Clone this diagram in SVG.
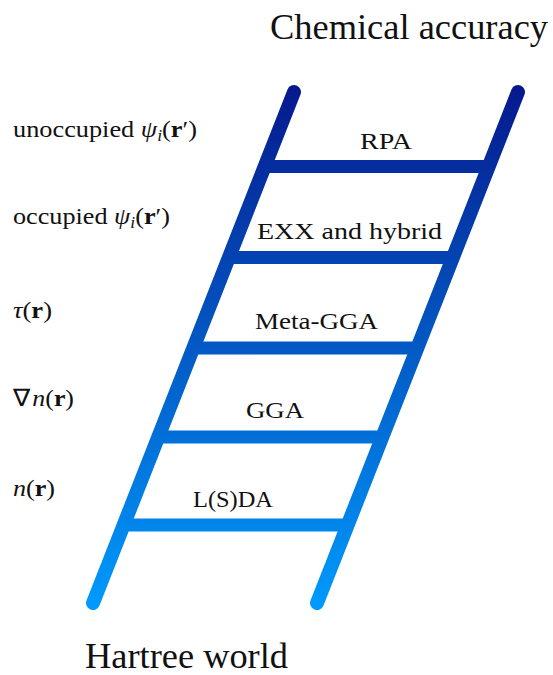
<svg xmlns="http://www.w3.org/2000/svg" width="553" height="675" viewBox="0 0 553 675" font-family="'Liberation Serif', 'Times New Roman', serif">
  <style>
    text { fill: #111; font-family: "Liberation Serif", "Times New Roman", serif; }
    .title { font-size: 35px; }
    .rung-label { font-size: 24px; text-anchor: middle; }
    .level { font-size: 24px; }
    .it { font-style: italic; }
    .bf { font-weight: bold; }
    .rail { stroke: url(#ladderShade); stroke-width: 14; stroke-linecap: round; fill: none; }
    .rung { stroke: url(#ladderShade); stroke-width: 13; stroke-linecap: butt; fill: none; }
  </style>
  <defs>
    <linearGradient id="ladderShade" gradientUnits="userSpaceOnUse" x1="0" y1="92" x2="0" y2="603">
      <stop offset="0" stop-color="#061a8e"/>
      <stop offset="1" stop-color="#0099fc"/>
    </linearGradient>
  </defs>

  <!-- ladder frame: two slanted rails and five rungs -->
  <g id="connectors">
    <line class="rail" x1="294" y1="92" x2="93" y2="603"/>
    <line class="rail" x1="518" y1="92" x2="317" y2="603"/>
    <line class="rung" x1="266" y1="166.5" x2="486" y2="166.5"/>
    <line class="rung" x1="231" y1="257.5" x2="449" y2="257.5"/>
    <line class="rung" x1="196" y1="348" x2="414" y2="348"/>
    <line class="rung" x1="161" y1="437" x2="380" y2="437"/>
    <line class="rung" x1="127" y1="525" x2="345" y2="525"/>
  </g>

  <g id="top-label"><text class="title" x="270" y="39" textLength="278" lengthAdjust="spacingAndGlyphs">Chemical accuracy</text></g>
  <g id="bottom-label"><text class="title" x="85" y="668" textLength="203" lengthAdjust="spacingAndGlyphs">Hartree world</text></g>

  <g id="rpa"><text class="rung-label" x="386" y="149" textLength="52" lengthAdjust="spacingAndGlyphs">RPA</text></g>
  <g id="exx-hybrid"><text class="rung-label" x="349.5" y="239" textLength="185" lengthAdjust="spacingAndGlyphs">EXX and hybrid</text></g>
  <g id="meta-gga"><text class="rung-label" x="316.5" y="329" textLength="123" lengthAdjust="spacingAndGlyphs">Meta-GGA</text></g>
  <g id="gga"><text class="rung-label" x="275" y="418" textLength="58" lengthAdjust="spacingAndGlyphs">GGA</text></g>
  <g id="lsda"><text class="rung-label" x="233" y="507" textLength="80" lengthAdjust="spacingAndGlyphs">L(S)DA</text></g>

  <!-- density ingredients for each rung -->
  <g id="ingredient-unoccupied"><text class="level" x="13" y="137" textLength="184" lengthAdjust="spacingAndGlyphs">unoccupied <tspan class="it">ψ</tspan><tspan class="it" font-size="16" dy="4">i</tspan><tspan dy="-4">(</tspan><tspan class="bf">r</tspan>′)</text></g>
  <g id="ingredient-occupied"><text class="level" x="13" y="224" textLength="157" lengthAdjust="spacingAndGlyphs">occupied <tspan class="it">ψ</tspan><tspan class="it" font-size="16" dy="4">i</tspan><tspan dy="-4">(</tspan><tspan class="bf">r</tspan>′)</text></g>
  <g id="ingredient-tau"><text class="level" x="13" y="318" textLength="39" lengthAdjust="spacingAndGlyphs"><tspan class="it">τ</tspan>(<tspan class="bf">r</tspan>)</text></g>
  <g id="ingredient-gradient"><text class="level" x="13" y="406" textLength="61" lengthAdjust="spacingAndGlyphs">∇<tspan class="it" dx="2">n</tspan>(<tspan class="bf">r</tspan>)</text></g>
  <g id="ingredient-density"><text class="level" x="13" y="496" textLength="42" lengthAdjust="spacingAndGlyphs"><tspan class="it">n</tspan>(<tspan class="bf">r</tspan>)</text></g>
</svg>
